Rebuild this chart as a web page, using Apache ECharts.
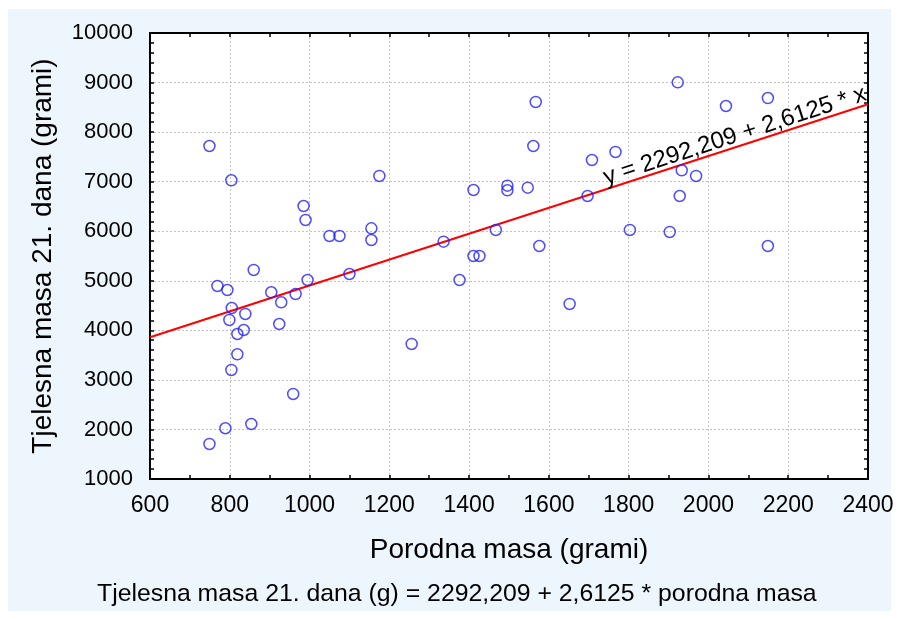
<!DOCTYPE html>
<html>
<head>
<meta charset="utf-8">
<script src="https://cdn.jsdelivr.net/npm/echarts@6/dist/echarts.min.js"></script>
<style>
html,body{margin:0;padding:0;background:#fff;}
#c{width:899px;height:619px;}
</style>
</head>
<body>
<div id="c"></div>
<script>
// Data
const birthMass = [749, 804, 985, 990, 1050, 1075, 1155, 1155, 1175, 1336, 1411, 1467, 1496, 1496, 1411, 1426,
  1567, 1561, 1547, 1697, 1708, 1767, 1923, 1933, 1969, 1928, 2044, 2149, 1803, 1903, 1576, 2149, 1652,
  769, 794, 860, 995, 1100, 904, 965, 929, 805, 839, 799, 924, 835, 819, 1256, 819, 804, 959, 789, 854, 749, 1376];
const mass21 = [7720, 7028, 6509, 6227, 5904, 5904, 6059, 5823, 7115, 5789, 6832, 6025, 6919, 6826, 5500, 5500,
  8608, 7720, 6879, 6711, 7437, 7599, 9005, 7230, 7115, 6711, 8527, 8688, 6025, 5985, 5702, 5702, 4532,
  4895, 4814, 5218, 5016, 5137, 4768, 4734, 4566, 4451, 4330, 4209, 4128, 4007, 3926, 3725, 3517, 3200, 2716, 2024, 2110, 1707, 5016];
const intercept = 2292.209;
const slope = 2.6125;
const xRange = [600, 2400];
const yRange = [1000, 10000];
const xTitle = 'Porodna masa (grami)';
const yTitle = 'Tjelesna masa 21. dana (grami)';
const lineLabel = 'y = 2292,209 + 2,6125 * x';
const footer = 'Tjelesna masa 21. dana (g) = 2292,209 + 2,6125 * porodna masa';

const points = birthMass.map((x, i) => [x, mass21[i]]);
const FONT = '"Liberation Sans", Arial, sans-serif';

function axisBase(isX, primary) {
  return {
    type: 'value',
    min: isX ? xRange[0] : yRange[0],
    max: isX ? xRange[1] : yRange[1],
    interval: isX ? 200 : 1000,
    position: isX ? (primary ? 'bottom' : 'top') : (primary ? 'left' : 'right'),
    axisLine: { show: true, onZero: false, lineStyle: { color: '#000', width: 2 } },
    axisTick: { show: true, inside: true, length: 4, lineStyle: { color: '#000', width: 1.5 } },
    minorTick: { show: true, splitNumber: isX ? 2 : 5, length: 4, lineStyle: { color: '#000', width: 1.5 } },
    splitLine: { show: primary, lineStyle: { color: '#c4c4c4', type: [2, 2], width: 1 } },
    axisLabel: {
      show: primary,
      color: '#000',
      fontFamily: FONT,
      fontSize: isX ? 23 : 22,
      margin: isX ? 15 : 17,
      formatter: v => String(v)
    }
  };
}

const xMain = Object.assign(axisBase(true, true), {
  name: xTitle, nameLocation: 'middle', nameGap: 57,
  nameTextStyle: { color: '#000', fontFamily: FONT, fontSize: 28 }
});
const yMain = Object.assign(axisBase(false, true), {
  name: yTitle, nameLocation: 'middle', nameGap: 93,
  nameTextStyle: { color: '#000', fontFamily: FONT, fontSize: 28 }
});

const chart = echarts.init(document.getElementById('c'), null, { renderer: 'canvas' });
chart.setOption({
  backgroundColor: '#ffffff',
  animation: false,
  graphic: [{
    type: 'rect', left: 8, top: 9, z: -10,
    shape: { width: 883, height: 602 },
    style: { fill: '#eef6fd' }
  }],
  title: {
    text: footer, left: 97, top: 582, padding: 0,
    textStyle: { color: '#000', fontFamily: FONT, fontSize: 24.8, fontWeight: 'normal' }
  },
  grid: { left: 150, right: 31, top: 33, bottom: 140, show: true, backgroundColor: '#ffffff', borderWidth: 0 },
  xAxis: [xMain, axisBase(true, false)],
  yAxis: [yMain, axisBase(false, false)],
  series: [{
    type: 'scatter',
    xAxisIndex: 0, yAxisIndex: 0,
    data: points,
    symbol: 'circle',
    symbolSize: 11,
    itemStyle: { color: 'rgba(0,0,0,0)', borderColor: '#2020ff', borderWidth: 1.5 },
    z: 3,
    markLine: {
      silent: true,
      symbol: 'none',
      z: 2,
      lineStyle: { color: '#ff0000', width: 2, type: 'solid' },
      label: {
        show: true,
        position: 'insideEndTop',
        distance: -1,
        formatter: lineLabel,
        color: '#000',
        fontFamily: FONT,
        fontSize: 24
      },
      data: [[
        { coord: [xRange[0], intercept + slope * xRange[0]] },
        { coord: [xRange[1], intercept + slope * xRange[1]] }
      ]]
    }
  }]
});
</script>
</body>
</html>
